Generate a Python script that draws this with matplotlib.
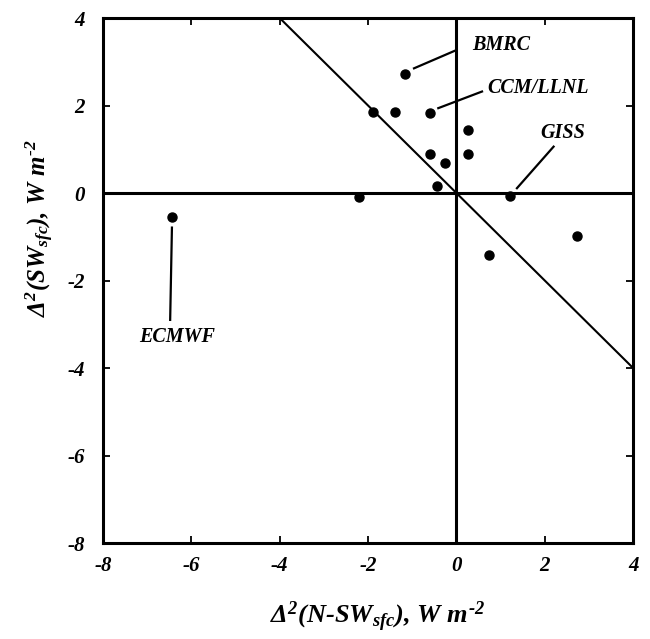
import matplotlib
matplotlib.use("Agg")
import matplotlib.pyplot as plt
import numpy as np

# Model differences: x = Δ²(N-SW_sfc), y = Δ²(SW_sfc), W m^-2
x_vals = [-1.16, -1.89, -1.40, -0.60, 0.26, -0.60, -0.26, 0.27, -0.44, -2.20, 1.21, 0.74, 2.74, -6.43]
y_vals = [2.72, 1.86, 1.85, 1.84, 1.45, 0.90, 0.68, 0.90, 0.15, -0.08, -0.06, -1.41, -0.98, -0.54]

# Labelled models (index into the arrays above)
label_names = ["BMRC", "CCM/LLNL", "GISS", "ECMWF"]
label_index = [0, 3, 10, 13]

x_ticks = [-8, -6, -4, -2, 0, 2, 4]
y_ticks = [-8, -6, -4, -2, 0, 2, 4]

plt.rcParams["font.family"] = ["Liberation Serif", "DejaVu Serif"]
plt.rcParams["font.weight"] = "bold"
plt.rcParams["font.style"] = "italic"
plt.rcParams["mathtext.fontset"] = "custom"
plt.rcParams["mathtext.rm"] = "Liberation Serif:bold"
plt.rcParams["mathtext.it"] = "Liberation Serif:bold:italic"
plt.rcParams["mathtext.bf"] = "Liberation Serif:bold"

fig = plt.figure(figsize=(6.5, 6.39), dpi=100)
ax = fig.add_axes([0.1585, 0.1502, 0.8155, 0.8216])

ax.set_xlim(-8, 4)
ax.set_ylim(-8, 4)

# reference lines: axes through origin and the y = -x diagonal
ax.axhline(0, color="black", lw=2.2, zorder=1)
ax.axvline(0, color="black", lw=2.2, zorder=1)
diag = np.array([-4.0, 4.0])
ax.plot(diag, -diag, color="black", lw=1.5, zorder=1)

ax.plot(x_vals, y_vals, "o", color="black", ms=6.5, zorder=3)

# leader lines and labels
leader_offsets = [
    ((0.20, 0.13), (1.12, 0.53), (1.02, 3.39)),
    ((0.19, 0.10), (1.18, 0.48), (1.84, 2.39)),
    ((0.16, 0.17), (0.99, 1.12), (2.40, 1.37)),
    ((-0.01, -0.25), (-0.05, -2.36), (-6.33, -3.28)),
]
for name, idx, (a, b, t) in zip(label_names, label_index, leader_offsets):
    x0, y0 = x_vals[idx], y_vals[idx]
    ax.plot([x0 + a[0], x0 + b[0]], [y0 + a[1], y0 + b[1]], color="black", lw=1.6, zorder=2)
    ax.text(t[0], t[1], name, ha="center", va="center", fontsize=14.5,
            fontweight="bold", fontstyle="italic")

ax.set_xticks(x_ticks)
ax.set_yticks(y_ticks)
ax.set_xticklabels([str(v) for v in x_ticks], fontsize=15, fontweight="bold", fontstyle="italic")
ax.set_yticklabels([str(v) for v in y_ticks], fontsize=15, fontweight="bold", fontstyle="italic")
ax.tick_params(direction="in", length=5, width=1.3, top=True, right=True)
ax.tick_params(axis="x", pad=9)
ax.tick_params(axis="y", pad=13)

for sp in ax.spines.values():
    sp.set_linewidth(2.2)

ax.set_xlabel(r"$\mathrm{\Delta}^{2}(N\text{-}SW_{sfc}){,}\ W\ m^{\text{-}2}$", fontsize=19)
ax.set_ylabel(r"$\mathrm{\Delta}^{2}(SW_{sfc}){,}\ W\ m^{\text{-}2}$", fontsize=18)
ax.xaxis.set_label_coords(0.519, -0.108)
ax.yaxis.set_label_coords(-0.088, 0.60)

fig.savefig("out.png", dpi=100)
